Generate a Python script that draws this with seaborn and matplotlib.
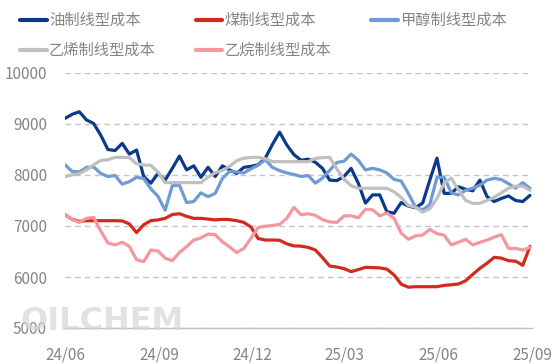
import matplotlib
matplotlib.use("Agg")
import matplotlib.pyplot as plt
import numpy as np
import pandas as pd
import seaborn as sns

# ---------------- data ----------------
dates = pd.date_range("2024-06-01", periods=66, freq="7D")

oil = [9110, 9190, 9240, 9080, 9010, 8780, 8500, 8480, 8620, 8410,
       8490, 7970, 7840, 8030, 7900, 8130, 8370, 8100, 8180, 7955,
       8150, 7970, 8180, 8100, 8030, 8150, 8170, 8200, 8330, 8600,
       8840, 8590, 8400, 8290, 8310, 8250, 8130, 7900, 7890, 7970,
       8130, 7840, 7450, 7610, 7610, 7280, 7250, 7460, 7390, 7360,
       7450, 7900, 8330, 7640, 7640, 7770, 7720, 7690, 7900, 7575,
       7480, 7540, 7590, 7500, 7480, 7600]

coal = [7220, 7130, 7090, 7104, 7104, 7104, 7104, 7104, 7100, 7040,
        6870, 7025, 7105, 7120, 7150, 7225, 7240, 7190, 7150, 7150,
        7135, 7120, 7130, 7125, 7105, 7070, 6980, 6755, 6725, 6725,
        6720, 6650, 6610, 6605, 6580, 6530, 6380, 6215, 6195, 6165,
        6105, 6145, 6190, 6185, 6178, 6155, 6040, 5860, 5800, 5810,
        5810, 5810, 5810, 5835, 5848, 5863, 5925, 6050, 6170, 6270,
        6386, 6370, 6320, 6310, 6230, 6600]

methanol = [8200, 8070, 8060, 8150, 8160, 8030, 7970, 7990, 7820, 7870,
            7955, 7930, 7730, 7580, 7310, 7790, 7800, 7460, 7480, 7650,
            7575, 7640, 7930, 8070, 8060, 8040, 8120, 8190, 8300, 8150,
            8085, 8040, 8010, 7970, 7990, 7840, 7940, 8090, 8245, 8270,
            8410, 8290, 8100, 8130, 8100, 8040, 7915, 7880, 7640, 7370,
            7314, 7420, 7950, 7960, 7650, 7610, 7700, 7740, 7800, 7900,
            7935, 7910, 7830, 7740, 7850, 7740]

ethylene = [7970, 8000, 8030, 8100, 8200, 8285, 8300, 8346, 8346, 8340,
            8220, 8196, 8190, 8060, 7850, 7850, 7850, 7850, 7850, 7850,
            7960, 8045, 8090, 8170, 8280, 8330, 8346, 8346, 8320, 8262,
            8262, 8262, 8262, 8262, 8262, 8327, 8340, 8346, 8120, 7920,
            7790, 7740, 7740, 7740, 7740, 7740, 7670, 7560, 7400, 7370,
            7270, 7340, 7540, 7840, 7940, 7710, 7500, 7445, 7445, 7500,
            7560, 7650, 7740, 7780, 7784, 7700]

ethane = [7216, 7130, 7070, 7150, 7170, 6900, 6665, 6630, 6680, 6600,
          6340, 6300, 6530, 6510, 6370, 6320, 6480, 6595, 6725, 6765,
          6843, 6830, 6690, 6590, 6480, 6560, 6760, 6970, 6995, 7010,
          7030, 7150, 7366, 7220, 7240, 7210, 7125, 7080, 7070, 7196,
          7200, 7160, 7327, 7320, 7200, 7255, 7150, 6860, 6740, 6805,
          6824, 6935, 6850, 6820, 6630, 6680, 6740, 6630, 6680, 6725,
          6780, 6830, 6560, 6560, 6530, 6580]

series_names = ["油制线型成本", "煤制线型成本", "甲醇制线型成本", "乙烯制线型成本", "乙烷制线型成本"]
series_colors = ["#0b3a8a", "#d3291f", "#6f9bd4", "#bfbfbf", "#f4979f"]
xtick_dates = ["2024-06-01", "2024-09-01", "2024-12-01", "2025-03-01", "2025-06-01", "2025-09-01"]
xtick_labels = ["24/06", "24/09", "24/12", "25/03", "25/06", "25/09"]
yticks = [5000, 6000, 7000, 8000, 9000, 10000]

# ---------------- frame ----------------
df = pd.DataFrame({"date": dates})
for name, vals in zip(series_names, [oil, coal, methanol, ethylene, ethane]):
    df[name] = vals
long = df.melt(id_vars="date", var_name="series", value_name="value")

sns.set_theme(style="white")
plt.rcParams["font.family"] = ["Noto Sans CJK SC", "DejaVu Sans"]

W, H = 554, 364
fig = plt.figure(figsize=(W / 100, H / 100), dpi=100)
ax = fig.add_axes([65 / W, 36 / H, 467 / W, 255 / H])

sns.lineplot(data=long, x="date", y="value", hue="series", hue_order=series_names,
             palette=dict(zip(series_names, series_colors)), linewidth=2.3,
             ax=ax, legend=True)

ax.set_xlim(pd.Timestamp("2024-06-01"), pd.Timestamp("2025-09-01"))
ax.set_ylim(5000, 10000)
ax.set_xlabel("")
ax.set_ylabel("")

ax.set_yticks(yticks)
ax.set_yticklabels([str(v) for v in yticks])
ax.set_xticks([pd.Timestamp(d) for d in xtick_dates])
ax.set_xticklabels(xtick_labels)

for side in ["top", "right", "left"]:
    ax.spines[side].set_visible(False)
ax.spines["bottom"].set_color("#bfbfbf")
ax.spines["bottom"].set_linewidth(1.0)

ax.tick_params(axis="x", direction="in", length=5, width=1, color="#bfbfbf",
               labelsize=11, labelcolor="#858585", pad=13)
ax.tick_params(axis="y", length=0, labelsize=11, labelcolor="#858585", pad=13)

ax.yaxis.grid(True, color="#c4c4c4", linestyle=(0, (4, 3)), linewidth=1.0)
ax.xaxis.grid(False)
ax.set_axisbelow(True)

# legend, row-major order
handles, labels = ax.get_legend_handles_labels()
ax.get_legend().remove()
order = [0, 3, 1, 4, 2]
leg = fig.legend([handles[i] for i in order], [labels[i] for i in order],
                 loc="upper left", bbox_to_anchor=(20 / W, 1 - 12 / H),
                 ncol=3, frameon=False, fontsize=11, handlelength=1.75,
                 handletextpad=0.15, columnspacing=2.6, labelspacing=0.85,
                 borderpad=0, borderaxespad=0)
for t in leg.get_texts():
    t.set_color("#858585")
for l in leg.get_lines():
    l.set_linewidth(3)

# watermark
fig.text(20 / W, 34 / H, "OILCHEM", fontsize=23, fontweight="bold",
         family="DejaVu Sans", color="#d6d6d6", alpha=0.7, va="baseline", ha="left")

fig.savefig("out.png", dpi=100)
